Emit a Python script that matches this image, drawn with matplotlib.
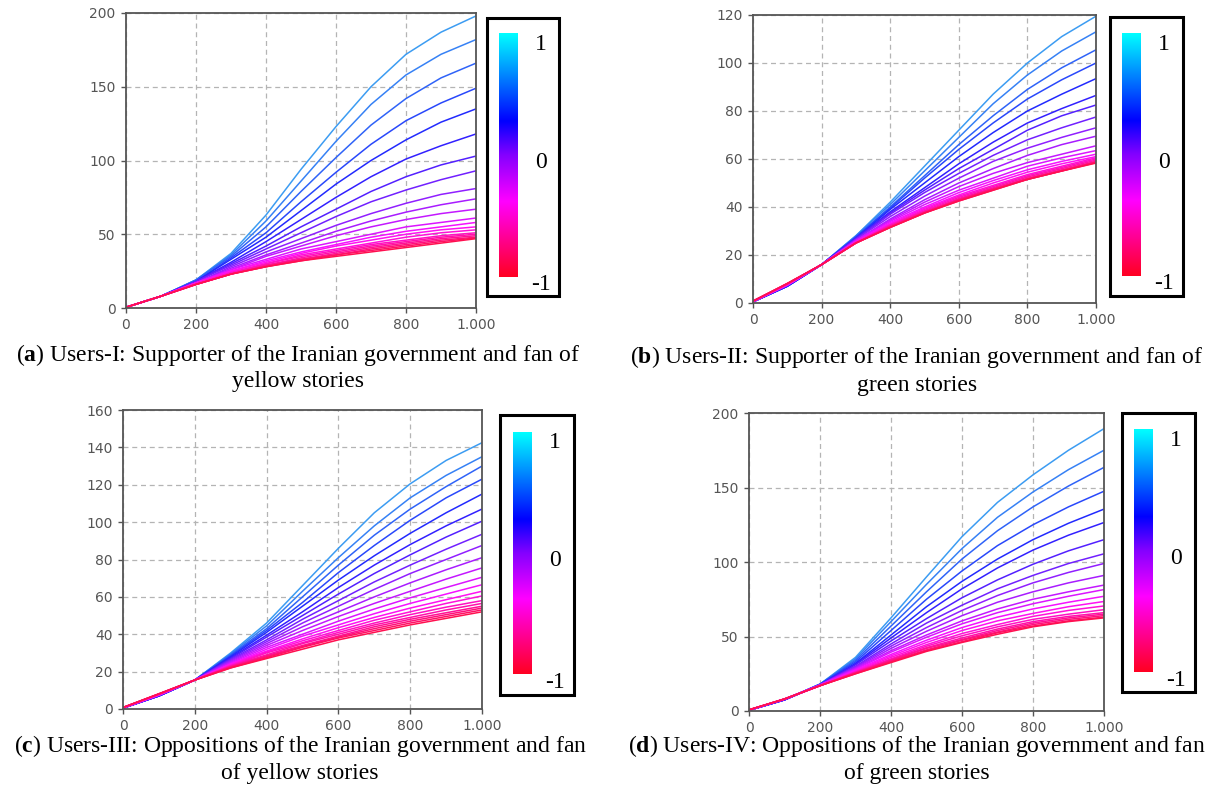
import numpy as np
import matplotlib
matplotlib.use('Agg')
import matplotlib.pyplot as plt
from matplotlib.colors import LinearSegmentedColormap
from matplotlib.patches import Rectangle
from matplotlib.ticker import FuncFormatter, MultipleLocator

plt.rcParams['mathtext.fontset'] = 'custom'
plt.rcParams['mathtext.rm'] = 'Liberation Serif'
plt.rcParams['mathtext.bf'] = 'Liberation Serif:bold'

W, H = 1224, 795

# time steps where the curves were read
x_points = [0, 100, 200, 300, 400, 500, 600, 700, 800, 900, 1000]

# (a) Users-I, curves from level 1 (top) down to level -1 (bottom)
curves_a = [
    [0.5, 8, 19, 37, 63, 94, 123, 150, 172, 187, 198],
    [0.5, 8, 19, 36, 59, 86, 113, 138, 158, 172, 182],
    [0.5, 8, 19, 35, 55, 79, 102, 124, 142, 156, 166],
    [0.5, 8, 18, 34, 51, 72, 92, 111, 127, 139, 149],
    [0.5, 8, 18, 33, 48, 66, 84, 100, 114, 126, 135],
    [0.5, 8, 18, 31, 45, 60, 75, 89, 101, 110, 118],
    [0.5, 8, 18, 30, 42, 55, 67, 79, 89, 97, 103],
    [0.5, 8, 18, 29, 40, 51, 62, 72, 80, 87, 93],
    [0.5, 8, 17, 28, 38, 47, 56, 64, 71, 77, 81],
    [0.5, 8, 17, 27, 36, 44, 52, 59, 65, 70, 74],
    [0.5, 8, 17, 26, 35, 42, 49, 55, 60, 64, 67],
    [0.5, 8, 17, 26, 33, 40, 45, 50, 55, 58, 61],
    [0.5, 8, 17, 25, 32, 38, 43, 48, 52, 55, 58],
    [0.5, 8, 17, 25, 31, 37, 42, 46, 50, 53, 55],
    [0.5, 8, 17, 24, 30, 36, 40, 44, 48, 51, 53],
    [0.5, 8, 16, 24, 30, 35, 39, 43, 46, 49, 51],
    [0.5, 8, 16, 23, 29, 34, 38, 42, 45, 48, 50],
    [0.5, 8, 16, 23, 29, 33, 37, 41, 44, 47, 49],
    [0.5, 8, 16, 23, 28, 33, 36, 40, 43, 46, 48],
    [0.5, 8, 16, 23, 28, 32, 36, 39, 42, 45, 47.5],
    [0.5, 8, 16, 23, 28, 32, 35, 38, 41, 44, 47],
]

# (b) Users-II
curves_b = [
    [0.5, 7, 16, 28, 42, 57, 72, 87, 100, 111, 119.5],
    [0.5, 7, 16, 28, 41, 55, 69, 83, 95, 105, 113],
    [0.5, 7, 16, 27.5, 40, 53, 66, 78, 89, 98, 105.5],
    [0.5, 7, 16, 27.5, 39.5, 52, 64, 75, 85, 93, 100],
    [0.5, 7, 16, 27, 39, 50, 61, 71, 80, 87, 93.5],
    [0.5, 7, 16, 27, 38, 48, 58, 67, 75, 81, 86.5],
    [0.5, 7.5, 16, 27, 37.5, 47, 56, 64, 72, 78, 82.5],
    [0.5, 7.5, 16, 26.5, 37, 46, 54, 61.5, 68, 73, 77.5],
    [0.5, 7.5, 16, 26.5, 36, 44.5, 52, 59, 64.5, 69, 73],
    [0.6, 7.5, 16, 26, 35, 43, 50, 56, 61.5, 66, 69.5],
    [0.6, 7.5, 16, 26, 34.5, 42, 48.5, 54, 58.5, 62, 65.5],
    [0.6, 7.5, 16, 26, 34, 41, 47, 52, 57, 60.5, 63.5],
    [0.7, 7.5, 16, 25.5, 33.5, 40, 46, 51, 55.5, 59, 62],
    [0.7, 7.5, 16, 25.5, 33, 39.5, 45, 50, 54.5, 58, 61],
    [0.7, 8, 16, 25.5, 32.5, 39, 44.5, 49, 53.5, 57, 60.5],
    [0.7, 8, 16, 25, 32.5, 38.5, 44, 48.5, 53, 56.5, 60],
    [0.8, 8, 16, 25, 32, 38, 43.5, 48, 52.5, 56, 59.5],
    [0.8, 8, 16, 25, 32, 38, 43, 47.5, 52, 55.5, 59],
    [0.8, 8, 16, 25, 31.5, 37.5, 43, 47.5, 51.5, 55, 58.8],
    [0.8, 8, 16, 25, 31.5, 37.5, 42.5, 47, 51.5, 55, 58.5],
    [0.8, 8.2, 16, 25, 31.5, 37.5, 42.5, 47, 51.5, 55, 58.3],
]

# (c) Users-III
curves_c = [
    [0.5, 7, 15.5, 30, 46, 66, 86, 105, 120.5, 133, 142.5],
    [0.5, 7, 15.5, 29.5, 44.5, 63, 81, 98, 113, 125, 135],
    [0.5, 7, 15.5, 29, 43, 60, 77, 93, 107, 119, 130],
    [0.5, 7, 15.5, 28.5, 42, 57, 73, 87.5, 101, 113, 123],
    [0.5, 7, 15.5, 28, 41, 55, 69, 82, 94, 105, 115],
    [0.5, 7, 15.5, 27.5, 39.5, 52, 65, 77, 88, 98, 107],
    [0.5, 7, 15.5, 27, 38.5, 50, 61.5, 72.5, 82.5, 92, 100.5],
    [0.5, 7.5, 15.5, 26.5, 37, 48, 58, 68, 77, 85.5, 93.5],
    [0.5, 7.5, 15.5, 26, 36, 46, 55, 64, 72.5, 80, 87.5],
    [0.5, 7.5, 15.5, 25.5, 35, 44, 52, 60, 67.5, 74.5, 81],
    [0.6, 7.5, 15.5, 25, 34, 42, 49.5, 56.5, 63, 69.5, 75.5],
    [0.6, 7.5, 15.5, 24.5, 33, 40, 47, 53.5, 59.5, 65, 70.5],
    [0.6, 7.5, 15.5, 24, 32, 39, 45, 51, 56.5, 61.5, 66.5],
    [0.7, 7.5, 15.5, 24, 31, 37.5, 43.5, 49, 54, 58.5, 63],
    [0.7, 8, 15.5, 23.5, 30.5, 36.5, 42, 47.5, 52, 56.5, 60.5],
    [0.7, 8, 15.5, 23, 30, 35.5, 41, 46, 50.5, 54.5, 58],
    [0.8, 8, 15.5, 23, 29, 35, 40, 45, 49, 53, 56.5],
    [0.8, 8, 15.5, 22.5, 28.5, 34, 39, 44, 48, 51.5, 55],
    [0.8, 8, 15.5, 22.5, 28, 33.5, 38.5, 43, 47, 50.5, 54],
    [0.8, 8, 15.5, 22, 27.5, 33, 38, 42, 46, 49.5, 53],
    [0.8, 8.2, 15.5, 22, 27, 32, 37, 41, 45, 48.5, 52],
]

# (d) Users-IV
curves_d = [
    [0.5, 7.5, 18, 36, 62.5, 90, 117, 140, 158.5, 175, 189.5],
    [0.5, 7.5, 18, 35, 60, 85, 109, 130, 147, 162, 175],
    [0.5, 7.5, 18, 34, 57, 80, 102, 121, 137, 151, 163.5],
    [0.5, 7.5, 18, 33, 54, 75, 94, 111, 125, 137, 147.5],
    [0.5, 7.5, 17.5, 32, 51, 70, 87, 102, 115, 126, 135.5],
    [0.5, 7.5, 17.5, 31.5, 49, 66, 82, 96, 108, 118, 126.5],
    [0.5, 7.5, 17.5, 31, 47, 62, 76, 88, 98.5, 107.5, 115],
    [0.5, 7.5, 17.5, 30, 45, 59, 71, 82, 91, 99, 105.5],
    [0.5, 8, 17.5, 29.5, 43.5, 56, 67.5, 77.5, 86, 93, 99],
    [0.5, 8, 17.5, 29, 42, 53.5, 64, 73, 80, 86, 91],
    [0.6, 8, 17.5, 28.5, 40.5, 51, 60.5, 68.5, 75, 80, 84.5],
    [0.6, 8, 17.5, 28, 39.5, 49.5, 58.5, 66, 72, 77, 81.5],
    [0.6, 8, 17, 27.5, 38, 47.5, 56, 63, 68.5, 73, 77],
    [0.7, 8, 17, 27, 37, 46, 54, 60.5, 65.5, 70, 73.5],
    [0.7, 8, 17, 26.5, 36, 44.5, 52, 58, 63.5, 67.5, 70.5],
    [0.7, 8, 17, 26, 35, 43.5, 50.5, 56.5, 61.5, 65, 68],
    [0.8, 8, 17, 26, 34.5, 42.5, 49, 55, 60, 63.5, 66],
    [0.8, 8, 17, 25.5, 34, 42, 48, 54, 59, 62.5, 65],
    [0.8, 8, 17, 25.5, 33.5, 41, 47.5, 53, 58, 61.5, 64],
    [0.8, 8, 17, 25, 33, 40.5, 46.5, 52.5, 57, 60.5, 63],
    [0.8, 8.2, 17, 25, 32.5, 40, 46, 51.5, 56.5, 60, 62.5],
]

captions = [
    ['a', 'Users-I: Supporter of the Iranian government and fan of', 'yellow stories'],
    ['b', 'Users-II: Supporter of the Iranian government and fan of', 'green stories'],
    ['c', 'Users-III: Oppositions of the Iranian government and fan', 'of yellow stories'],
    ['d', 'Users-IV: Oppositions of the Iranian government and fan', 'of green stories'],
]
y_max = [200, 120, 160, 200]
y_step = [50, 20, 20, 50]

# layout in pixels: axes (l, t, r, b), colour box, bar, caption centre / rows
ax_px = [(126, 13, 476, 308), (753, 15, 1096, 303), (123, 410, 482, 709), (749, 413, 1104, 711)]
box_px = [(487, 18, 559, 296), (1110, 17, 1183, 296), (500, 415, 574, 695), (1122, 413, 1195, 692)]
bar_px = [(499, 33, 518, 277), (1122, 33, 1141, 276), (513, 432, 532, 674), (1134, 429, 1153, 672)]
cap_px = [(298, 355, 382), (917, 357, 386), (300, 746, 773), (917, 746, 773)]

cmap = LinearSegmentedColormap.from_list('pol', [
    (0.0, '#ff0022'), (0.31, '#ff00ff'), (0.5, '#8400ff'),
    (0.64, '#0000ff'), (1.0, '#00ffff')])
line_cmap = LinearSegmentedColormap.from_list('pol_lines', [
    (0.0, '#ff1050'), (0.31, '#ff10ff'), (0.5, '#8a20ff'),
    (0.64, '#2020ff'), (0.82, '#3c9cf2'), (1.0, '#40c8f8')])


def frac(l, t, r, b):
    return [l / W, 1 - b / H, (r - l) / W, (b - t) / H]


def thousands(v, p):
    return f"{int(v):,}".replace(',', '.')


fig = plt.figure(figsize=(W / 100, H / 100), dpi=100)

panels = [curves_a, curves_b, curves_c, curves_d]
for i in range(4):
    ax = fig.add_axes(frac(*ax_px[i]))
    curves = panels[i]
    levels = np.linspace(0.64, -1, len(curves))
    for j in range(len(curves)):
        ax.plot(x_points, curves[j], c=line_cmap((levels[j] + 1) / 2), lw=1.1)
    ax.set_xlim(0, 1000)
    ax.set_ylim(0, y_max[i])
    ax.xaxis.set_major_locator(MultipleLocator(200))
    ax.yaxis.set_major_locator(MultipleLocator(y_step[i]))
    ax.xaxis.set_major_formatter(FuncFormatter(thousands))
    ax.grid(True, ls=(0, (4, 3)), c='#b4b4b4', lw=0.9)
    ax.set_axisbelow(True)
    for s in ax.spines.values():
        s.set_color('#555555')
        s.set_linewidth(1.3)
    ax.tick_params(direction='out', length=3.5, width=1, color='#555555',
                   labelcolor='#555555', labelsize=10, pad=4)

    # colour scale in its frame
    l, t, r, b = box_px[i]
    fig.patches.append(Rectangle((l / W, 1 - b / H), (r - l) / W, (b - t) / H,
                                 transform=fig.transFigure, fill=False,
                                 ec='black', lw=2.2))
    cax = fig.add_axes(frac(*bar_px[i]))
    cax.imshow(np.linspace(1, -1, 256).reshape(-1, 1), cmap=cmap, vmin=-1, vmax=1,
               aspect='auto', interpolation='bilinear')
    cax.axis('off')
    bl, bt, br, bb = bar_px[i]
    lx = br + 23
    fig.text(lx / W, 1 - (bt + 11) / H, '1', family='Liberation Serif', fontsize=17,
             ha='center', va='center')
    fig.text(lx / W, 1 - ((bt + bb) / 2 + 8) / H, '0', family='Liberation Serif', fontsize=17,
             ha='center', va='center')
    fig.text(lx / W, 1 - (bb + 8) / H, '-1', family='Liberation Serif', fontsize=17,
             ha='center', va='center')

    cx, y1, y2 = cap_px[i]
    letter, line1, line2 = captions[i]
    fig.text(cx / W, 1 - y1 / H, '($\\mathbf{' + letter + '}$) ' + line1,
             family='Liberation Serif', fontsize=17, ha='center', va='center')
    fig.text(cx / W, 1 - y2 / H, line2, family='Liberation Serif', fontsize=17,
             ha='center', va='center')

fig.savefig('out.png', dpi=100)
